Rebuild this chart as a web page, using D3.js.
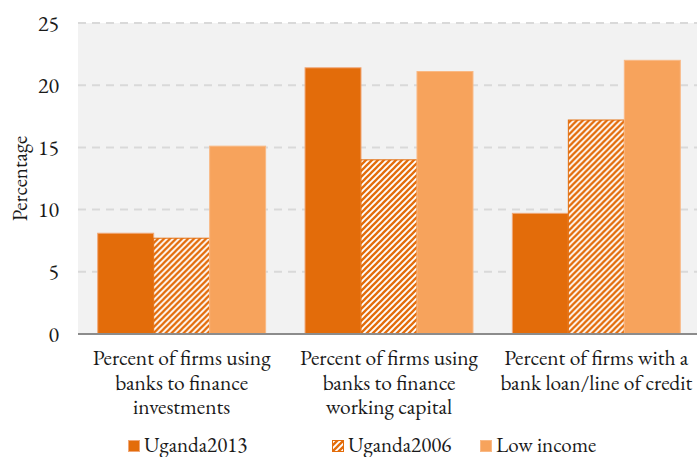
<!DOCTYPE html>
<html>
<head>
<meta charset="utf-8">
<script src="https://cdn.jsdelivr.net/npm/d3@7"></script>
</head>
<body style="margin:0;background:#fff">
<svg id="chart" width="697" height="457"></svg>
<script>
// Bank finance indicators by firm group
const categories = [
  ["Percent of firms using", "banks to finance", "investments"],
  ["Percent of firms using", "banks to finance", "working capital"],
  ["Percent of firms with a", "bank loan/line of credit"]
];
const seriesNames = ["Uganda2013", "Uganda2006", "Low income"];
const uganda2013 = [8.1, 21.4, 9.7];
const uganda2006 = [7.7, 14.0, 17.2];
const lowIncome = [15.1, 21.1, 22.0];
const yTicks = [0, 5, 10, 15, 20, 25];

const seriesValues = [uganda2013, uganda2006, lowIncome];
const fills = ["#e36c0a", "url(#hatch)", "#f7a35c"];
const strokes = ["#f0a878", "#e36c0a", "#f9b985"];
const FONT = '"EB Garamond", "Liberation Serif", serif';
const INK = "#1a1a1a";

const svg = d3.select("#chart");
const W = 697, H = 457;
const m = { left: 78, right: -3, top: 23, bottom: 123 };
const plotW = W - m.left - m.right;
const plotH = H - m.top - m.bottom;

// Diagonal hatch used for the 2006 series
const defs = svg.append("defs");
const pat = defs.append("pattern")
  .attr("id", "hatch")
  .attr("patternUnits", "userSpaceOnUse")
  .attr("width", 6).attr("height", 6);
pat.append("rect").attr("width", 6).attr("height", 6).attr("fill", "#fff");
pat.append("path")
  .attr("d", "M-1,1 L1,-1 M0,6 L6,0 M5,7 L7,5")
  .attr("stroke", "#e36c0a")
  .attr("stroke-width", 2.3)
  .attr("stroke-linecap", "square");

const g = svg.append("g").attr("transform", `translate(${m.left},${m.top})`);

const x0 = d3.scaleBand().domain(d3.range(categories.length)).range([0, plotW]).paddingInner(0.19).paddingOuter(0.095);
const x1 = d3.scaleBand().domain(d3.range(seriesNames.length)).range([0, x0.bandwidth()]);
const y = d3.scaleLinear().domain([0, 25]).range([plotH, 0]);

// Plot background
g.append("rect").attr("width", plotW).attr("height", plotH).attr("fill", "#f2f2f2");

// Gridlines
g.append("g").selectAll("line").data(yTicks.filter(t => t > 0)).join("line")
  .attr("x1", 0).attr("x2", plotW)
  .attr("y1", d => y(d)).attr("y2", d => y(d))
  .attr("stroke", "#d9d9d9").attr("stroke-width", 2)
  .attr("stroke-dasharray", "8,6");

// Y axis labels
const yAxis = d3.axisLeft(y).tickValues(yTicks).tickSize(0).tickPadding(19).tickFormat(d3.format("d"));
const ya = g.append("g").call(yAxis);
ya.select(".domain").remove();
ya.selectAll("text").style("font-size", "22px").style("font-family", FONT).style("fill", INK);

// Bars
const groups = g.append("g").selectAll("g").data(categories).join("g")
  .attr("transform", (d, i) => `translate(${x0(i)},0)`);
groups.selectAll("rect")
  .data((d, i) => seriesValues.map((s, k) => ({ k, v: s[i] })))
  .join("rect")
  .attr("x", d => x1(d.k))
  .attr("y", d => y(d.v))
  .attr("width", x1.bandwidth())
  .attr("height", d => y(0) - y(d.v))
  .attr("fill", d => fills[d.k])
  .attr("stroke", d => strokes[d.k])
  .attr("stroke-width", 1);

// Baseline
g.append("line").attr("x1", 0).attr("x2", plotW).attr("y1", y(0)).attr("y2", y(0))
  .attr("stroke", "#8c8c8c").attr("stroke-width", 2);

// Category labels
const lab = g.append("g").selectAll("text").data(categories).join("text")
  .attr("text-anchor", "middle")
  .attr("x", (d, i) => x0(i) + x0.bandwidth() / 2)
  .attr("y", plotH + 31)
  .style("font-size", "21.5px").style("font-family", FONT).style("fill", INK);
lab.selectAll("tspan").data(d => d).join("tspan")
  .attr("x", function() { return d3.select(this.parentNode).attr("x"); })
  .attr("dy", (d, i) => i === 0 ? 0 : 24.5)
  .text(d => d);

// Y axis title
svg.append("text")
  .attr("transform", `translate(27,${m.top + plotH / 2}) rotate(-90)`)
  .attr("text-anchor", "middle")
  .style("font-size", "21px").style("font-family", FONT).style("fill", INK)
  .text("Percentage");

// Legend
const legendX = [128, 332, 480];
const leg = svg.append("g").selectAll("g").data(seriesNames).join("g")
  .attr("transform", (d, i) => `translate(${legendX[i]},440)`);
leg.append("rect").attr("x", 0.5).attr("y", 0.5).attr("width", 11).attr("height", 11)
  .attr("fill", (d, i) => fills[i]).attr("stroke", (d, i) => strokes[i]);
leg.append("text").attr("x", 16).attr("y", 12)
  .style("font-size", "21px").style("font-family", FONT).style("fill", INK)
  .text(d => d);
</script>
</body>
</html>
